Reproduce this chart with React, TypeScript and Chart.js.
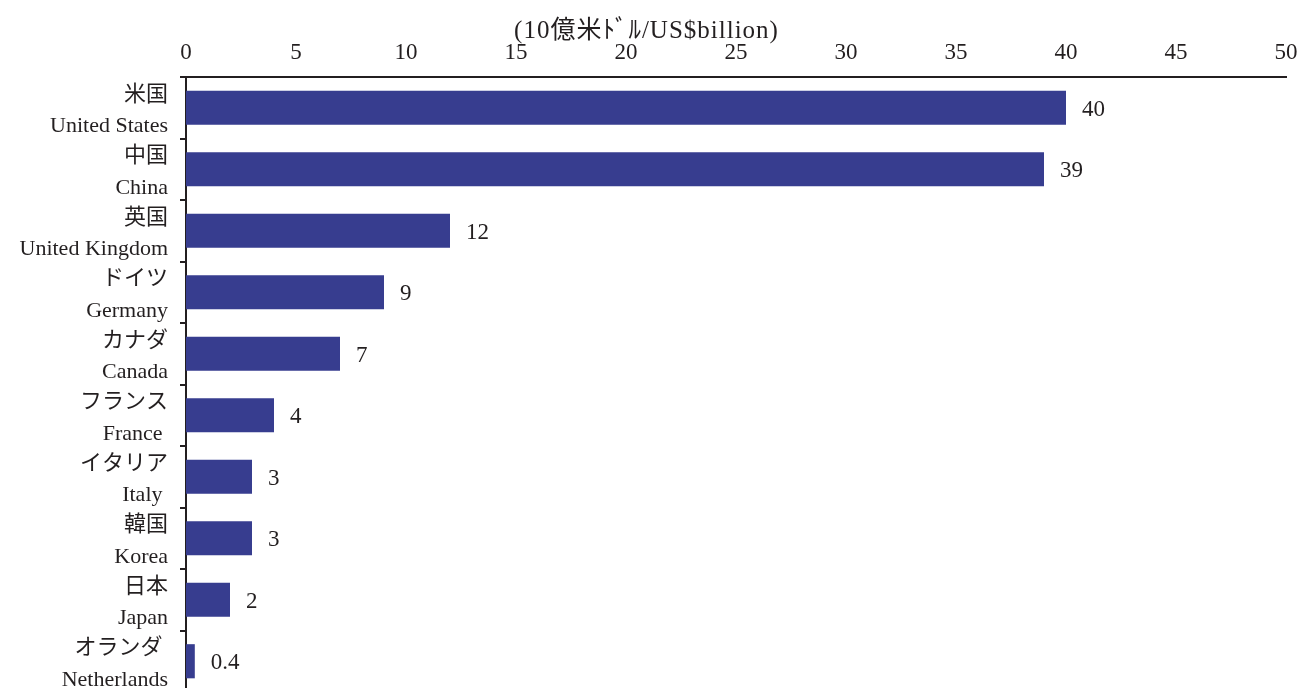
import React, { useEffect, useRef } from "react";
import { Chart, registerables } from "chart.js";

Chart.register(...registerables);

const namesJa = ["米国", "中国", "英国", "ドイツ", "カナダ", "フランス", "イタリア", "韓国", "日本", "オランダ "];
const namesEn = ["United States", "China", "United Kingdom", "Germany", "Canada", "France ", "Italy ", "Korea", "Japan", "Netherlands"];
const values = [40, 39, 12, 9, 7, 4, 3, 3, 2, 0.4];
const valueLabels = ["40", "39", "12", "9", "7", "4", "3", "3", "2", "0.4"];
const axisMin = 0;
const axisMax = 50;
const axisStep = 5;
const unitTitle = "(10億米ﾄﾞﾙ/US$billion)";

const FONT = "'Liberation Serif', 'Noto Sans CJK JP', serif";
const INK = "#231f20";
const BAR = "#373d8f";

const valueLabelPlugin = {
  id: "valueLabels",
  afterDatasetsDraw(chart: any) {
    const ctx = chart.ctx;
    const meta = chart.getDatasetMeta(0);
    ctx.save();
    ctx.font = `23px ${FONT}`;
    ctx.fillStyle = INK;
    ctx.textAlign = "left";
    ctx.textBaseline = "middle";
    meta.data.forEach((el: any, i: number) => {
      ctx.fillText(valueLabels[i], el.x + 16, el.y + 2);
    });
    ctx.restore();
  },
};

const unitTitlePlugin = {
  id: "unitTitle",
  afterDraw(chart: any) {
    const ctx = chart.ctx;
    ctx.save();
    ctx.font = `25px ${FONT}`;
    try {
      (ctx as any).letterSpacing = "1px";
    } catch (e) {}
    ctx.fillStyle = INK;
    ctx.textAlign = "center";
    ctx.textBaseline = "middle";
    ctx.fillText(unitTitle, chart.width / 2 - 4, 31);
    ctx.restore();
  },
};

export default function App() {
  const ref = useRef<HTMLCanvasElement | null>(null);

  useEffect(() => {
    document.body.style.margin = "0";
    document.body.style.overflow = "hidden";
    const canvas = ref.current;
    if (!canvas) return;
    const chart = new Chart(canvas, {
      type: "bar",
      data: {
        labels: namesJa.map((j, i) => [j, namesEn[i]]),
        datasets: [
          {
            data: values,
            backgroundColor: BAR,
            borderWidth: 0,
            barPercentage: 0.555,
            categoryPercentage: 1,
          },
        ],
      },
      options: {
        indexAxis: "y",
        responsive: false,
        animation: false,
        devicePixelRatio: 1,
        layout: { padding: { left: 0, right: 15, top: 0, bottom: 8 } },
        plugins: {
          legend: { display: false },
          tooltip: { enabled: false },
          title: { display: false },
        },
        scales: {
          x: {
            position: "top",
            min: axisMin,
            max: axisMax,
            afterFit(scale: any) {
              scale.height = 77;
              scale.paddingLeft = 0;
              scale.paddingRight = 0;
            },
            ticks: {
              stepSize: axisStep,
              color: INK,
              padding: 10,
              font: { family: FONT, size: 23 },
            },
            grid: { display: false, drawTicks: false },
            border: { display: true, color: INK, width: 2 },
          },
          y: {
            afterFit(scale: any) {
              scale.width = 186;
              scale.paddingTop = 0;
              scale.paddingBottom = 0;
            },
            ticks: {
              autoSkip: false,
              color: INK,
              padding: 12,
              labelOffset: 3,
              font: { family: FONT, size: 22, lineHeight: 1.45 },
            },
            grid: {
              display: true,
              drawOnChartArea: false,
              drawTicks: true,
              tickLength: 6,
              color: INK,
              lineWidth: 2,
            },
            border: { display: true, color: INK, width: 2 },
          },
        },
      },
      plugins: [valueLabelPlugin, unitTitlePlugin],
    });
    return () => chart.destroy();
  }, []);

  return (
    <div style={{ width: 1301, height: 688, overflow: "hidden", background: "#fff" }}>
      <canvas ref={ref} width={1301} height={700} />
    </div>
  );
}
